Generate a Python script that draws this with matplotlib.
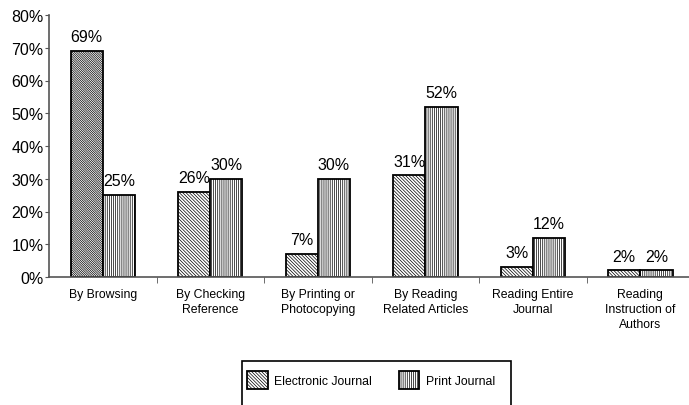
import matplotlib.pyplot as plt
from matplotlib.patches import Rectangle, Patch
import numpy as np

# Data
categories = ["By Browsing", "By Checking\nReference", "By Printing or\nPhotocopying",
              "By Reading\nRelated Articles", "Reading Entire\nJournal",
              "Reading\nInstruction of\nAuthors"]
electronic = [69, 26, 7, 31, 3, 2]
printed = [25, 30, 30, 52, 12, 2]
series_names = ["Electronic Journal", "Print Journal"]

plt.rcParams['font.family'] = ['Liberation Sans', 'DejaVu Sans']
plt.rcParams['hatch.linewidth'] = 0.5

fig = plt.figure(figsize=(6.89, 4.06), dpi=100)
ax = fig.add_axes([49 / 689, 128 / 406, 645 / 689, 262 / 406])

x = np.arange(len(categories))
w = 0.3
e_hatch = '\\' * 10
p_hatch = '|' * 8

e_bars = ax.bar(x - w / 2, np.array(electronic) / 100, width=w, color='white',
                edgecolor='black', linewidth=1.3, hatch=e_hatch)
p_bars = ax.bar(x + w / 2, np.array(printed) / 100, width=w, color='white',
                edgecolor='black', linewidth=1.3, hatch=p_hatch)
# first bar in the original is a darker shade
e_bars[0].set_hatch('\\' * 15)

for bars, vals in [(e_bars, electronic), (p_bars, printed)]:
    for b, v in zip(bars, vals):
        ax.annotate(f'{v}%', (b.get_x() + b.get_width() / 2, b.get_height()),
                    xytext=(0, 5), textcoords='offset points',
                    ha='center', va='bottom', fontsize=11.5)

ax.set_xlim(-0.5, len(categories) - 0.5)
ax.set_ylim(0, 0.8)
ax.set_yticks(np.arange(0, 0.81, 0.1))
ax.set_yticklabels([f'{int(round(v * 100))}%' for v in np.arange(0, 0.81, 0.1)])
ax.tick_params(axis='y', labelsize=11.5, length=3, pad=1, color='#555555')

ax.set_xticks(x)
ax.set_xticklabels(categories, fontsize=8.8, linespacing=1.35)
ax.tick_params(axis='x', which='major', length=0, pad=8)
ax.set_xticks(np.arange(0.5, len(categories) - 0.5, 1), minor=True)
ax.tick_params(axis='x', which='minor', length=4, color='#555555')

for side in ['top', 'right']:
    ax.spines[side].set_visible(False)
for side in ['left', 'bottom']:
    ax.spines[side].set_color('#555555')
    ax.spines[side].set_linewidth(1.2)

# Legend
handles = [Patch(facecolor='white', edgecolor='black', hatch=e_hatch, linewidth=1.3),
           Patch(facecolor='white', edgecolor='black', hatch=p_hatch, linewidth=1.3)]
fig.legend(handles, series_names, loc='center left',
           bbox_to_anchor=(247 / 689, 1 - 381 / 406), ncol=2, frameon=False,
           fontsize=8.8, handlelength=1.7, handleheight=1.8, handletextpad=0.5,
           columnspacing=2.2, borderpad=0, borderaxespad=0)
fig.add_artist(Rectangle((242 / 689, -0.05), 269 / 689, 44 / 406 + 0.05,
                         transform=fig.transFigure, fill=False,
                         edgecolor='black', linewidth=1.2))

fig.savefig('out.png', dpi=100)
